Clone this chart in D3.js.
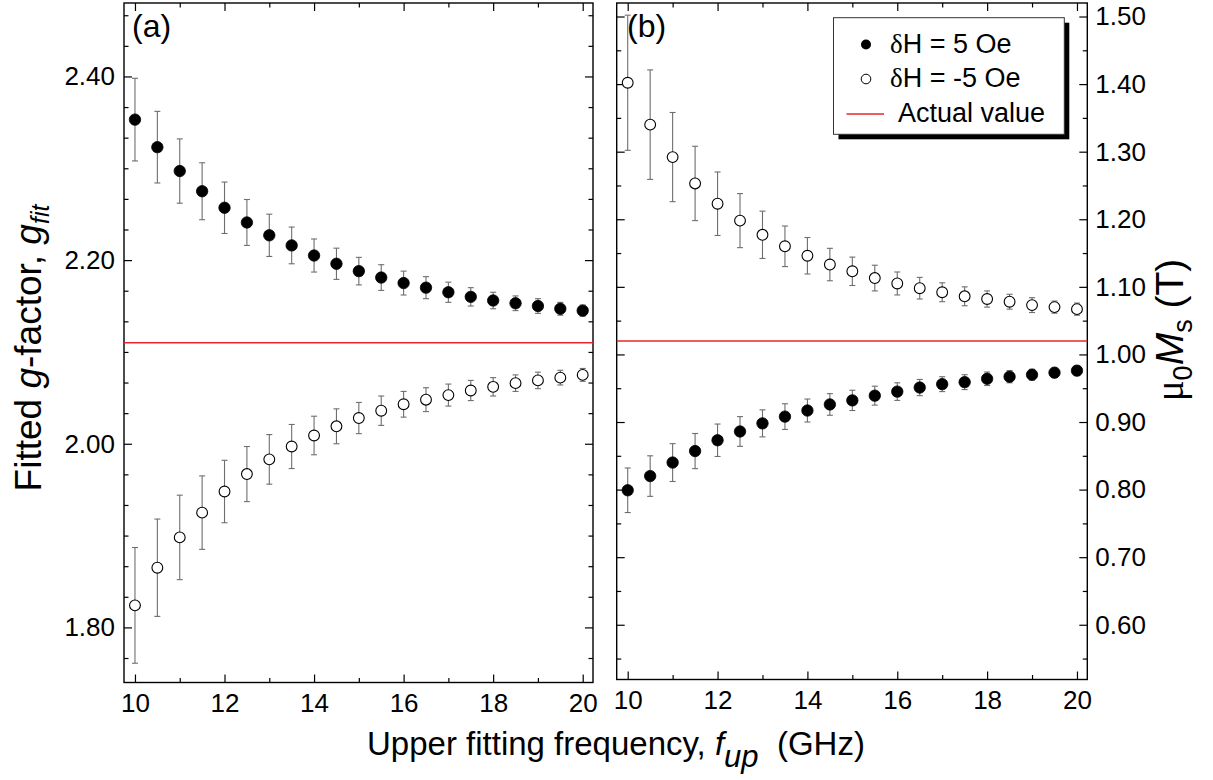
<!DOCTYPE html>
<html><head><meta charset="utf-8">
<script src="https://cdn.jsdelivr.net/npm/d3@7"></script>
<style>
html,body{margin:0;padding:0;background:#fff;}
svg{display:block;}
text{font-family:"Liberation Sans",Arial,sans-serif;fill:#000;}
</style></head>
<body>
<script>
// ---------- data ----------
const freq = [10, 10.5, 11, 11.5, 12, 12.5, 13, 13.5, 14, 14.5, 15, 15.5, 16, 16.5, 17, 17.5, 18, 18.5, 19, 19.5, 20];
// panel (a): fitted g-factor
const gPos    = [2.353, 2.323, 2.297, 2.275, 2.257, 2.241, 2.227, 2.216, 2.205, 2.196, 2.188, 2.181, 2.175, 2.170, 2.165, 2.160, 2.156, 2.153, 2.150, 2.147, 2.145];
const gPosErr = [0.045, 0.039, 0.035, 0.031, 0.028, 0.025, 0.023, 0.020, 0.018, 0.017, 0.015, 0.014, 0.013, 0.012, 0.011, 0.010, 0.009, 0.008, 0.008, 0.007, 0.006];
const gNeg    = [1.824, 1.865, 1.898, 1.925, 1.948, 1.967, 1.983, 1.997, 2.009, 2.019, 2.028, 2.036, 2.043, 2.048, 2.053, 2.058, 2.062, 2.066, 2.069, 2.072, 2.075];
const gNegErr = [0.063, 0.053, 0.046, 0.040, 0.034, 0.030, 0.027, 0.024, 0.021, 0.019, 0.017, 0.016, 0.014, 0.013, 0.012, 0.011, 0.010, 0.009, 0.009, 0.008, 0.007];
const gActual = 2.11;
// panel (b): mu0 Ms (T)
const msPos    = [0.799, 0.820, 0.840, 0.857, 0.873, 0.886, 0.898, 0.908, 0.917, 0.926, 0.932, 0.939, 0.945, 0.951, 0.956, 0.959, 0.964, 0.967, 0.970, 0.973, 0.976];
const msPosErr = [0.033, 0.030, 0.028, 0.026, 0.024, 0.022, 0.020, 0.019, 0.017, 0.016, 0.015, 0.014, 0.013, 0.012, 0.011, 0.011, 0.010, 0.009, 0.008, 0.007, 0.007];
const msNeg    = [1.402, 1.340, 1.292, 1.253, 1.223, 1.198, 1.177, 1.160, 1.146, 1.133, 1.123, 1.113, 1.105, 1.098, 1.092, 1.086, 1.082, 1.078, 1.073, 1.070, 1.067];
const msNegErr = [0.100, 0.081, 0.066, 0.055, 0.047, 0.040, 0.035, 0.030, 0.027, 0.024, 0.021, 0.019, 0.017, 0.016, 0.014, 0.014, 0.012, 0.011, 0.011, 0.009, 0.009];
const msActual = 1.02;
// ticks
const xMajor = [10, 12, 14, 16, 18, 20];
const xMinor = [11, 13, 15, 17, 19];
const gMajor = [1.80, 2.00, 2.20, 2.40];
const msMajor = [0.60, 0.70, 0.80, 0.90, 1.00, 1.10, 1.20, 1.30, 1.40, 1.50];
const legendLabels = ["δH = 5 Oe", "δH = -5 Oe", "Actual value"];

// ---------- layout ----------
const W = 1213, H = 780;
const svg = d3.select("body").append("svg").attr("width", W).attr("height", H);

const xA = d3.scaleLinear().domain([9.755, 20.23]).range([124, 593]);
const yA = d3.scaleLinear().domain([1.74, 2.48]).range([682.5, 3]);
const xB = d3.scaleLinear().domain([9.755, 20.23]).range([616.7, 1087.3]);
const yB = d3.scaleLinear().domain([0.519, 1.52]).range([679.5, 3]);

// minor ticks: 5 per 0.2 on (a), one per 0.1 on (b)
const gMinor = d3.range(-2, 22).map(i => 1.80 + i * 0.2 / 6)
  .filter(v => v > 1.741 && v < 2.479 && !gMajor.some(m => Math.abs(m - v) < 1e-3));
const msMinor = d3.range(0, 19).map(i => 0.55 + i * 0.1).filter(v => v > 0.52 && v < 1.52);

const MAJ = 8, MIN = 4.5;
const fontTick = 26;
const serif = '"Liberation Serif","Times New Roman",serif';

function styleAxis(g) {
  g.select(".domain").remove();
  g.selectAll(".tick line").attr("stroke", "#000").attr("stroke-width", 1.2);
  g.selectAll(".tick text").attr("font-size", fontTick).attr("font-family", '"Liberation Sans",Arial,sans-serif').attr("fill", "#000");
}

function drawPanel(x, y, yMaj, yMin, labelRight, fmt) {
  const [x0, x1] = x.range();
  const [yb, yt] = y.range();
  const g = svg.append("g");
  const none = () => "";
  // bottom
  g.append("g").attr("transform", `translate(0,${yb})`)
    .call(d3.axisBottom(x).tickValues(xMajor).tickSizeInner(-MAJ).tickSizeOuter(0).tickPadding(11).tickFormat(d3.format("d")))
    .call(styleAxis);
  g.append("g").attr("transform", `translate(0,${yb})`)
    .call(d3.axisBottom(x).tickValues(xMinor).tickSizeInner(-MIN).tickSizeOuter(0).tickFormat(none))
    .call(styleAxis);
  // top
  g.append("g").attr("transform", `translate(0,${yt})`)
    .call(d3.axisTop(x).tickValues(xMajor).tickSizeInner(-MAJ).tickSizeOuter(0).tickFormat(none))
    .call(styleAxis);
  g.append("g").attr("transform", `translate(0,${yt})`)
    .call(d3.axisTop(x).tickValues(xMinor).tickSizeInner(-MIN).tickSizeOuter(0).tickFormat(none))
    .call(styleAxis);
  // left
  g.append("g").attr("transform", `translate(${x0},0)`)
    .call(d3.axisLeft(y).tickValues(yMaj).tickSizeInner(-MAJ).tickSizeOuter(0).tickPadding(9).tickFormat(labelRight ? none : fmt))
    .call(styleAxis);
  g.append("g").attr("transform", `translate(${x0},0)`)
    .call(d3.axisLeft(y).tickValues(yMin).tickSizeInner(-MIN).tickSizeOuter(0).tickFormat(none))
    .call(styleAxis);
  // right
  g.append("g").attr("transform", `translate(${x1},0)`)
    .call(d3.axisRight(y).tickValues(yMaj).tickSizeInner(-MAJ).tickSizeOuter(0).tickPadding(8).tickFormat(labelRight ? fmt : none))
    .call(styleAxis);
  g.append("g").attr("transform", `translate(${x1},0)`)
    .call(d3.axisRight(y).tickValues(yMin).tickSizeInner(-MIN).tickSizeOuter(0).tickFormat(none))
    .call(styleAxis);
  // frame
  g.append("rect").attr("x", x0).attr("y", yt).attr("width", x1 - x0).attr("height", yb - yt)
    .attr("fill", "none").attr("stroke", "#000").attr("stroke-width", 1.4);
  return g;
}

function drawSeries(g, x, y, vals, errs, filled) {
  const data = freq.map((f, i) => ({ f, v: vals[i], e: errs[i] }));
  const eb = g.append("g").attr("stroke", "#6e6e6e").attr("stroke-width", 1.1).attr("fill", "none");
  data.forEach(d => {
    const cx = x(d.f), ylo = y(d.v - d.e), yhi = y(d.v + d.e);
    eb.append("line").attr("x1", cx).attr("x2", cx).attr("y1", ylo).attr("y2", yhi);
    eb.append("line").attr("x1", cx - 3).attr("x2", cx + 3).attr("y1", ylo).attr("y2", ylo);
    eb.append("line").attr("x1", cx - 3).attr("x2", cx + 3).attr("y1", yhi).attr("y2", yhi);
  });
  g.append("g").selectAll("circle").data(data).join("circle")
    .attr("cx", d => x(d.f)).attr("cy", d => y(d.v))
    .attr("r", filled ? 5.7 : 5.4)
    .attr("fill", filled ? "#000" : "#fff")
    .attr("stroke", "#000").attr("stroke-width", filled ? 0.8 : 1.1);
}

function actualLine(g, x, y, v) {
  g.append("line").attr("x1", x.range()[0]).attr("x2", x.range()[1])
    .attr("y1", y(v)).attr("y2", y(v)).attr("stroke", "#e8262b").attr("stroke-width", 1.5);
}

const fmt2 = d3.format(".2f");
const pA = drawPanel(xA, yA, gMajor, gMinor, false, fmt2);
actualLine(pA, xA, yA, gActual);
drawSeries(pA, xA, yA, gPos, gPosErr, true);
drawSeries(pA, xA, yA, gNeg, gNegErr, false);

const pB = drawPanel(xB, yB, msMajor, msMinor, true, fmt2);
actualLine(pB, xB, yB, msActual);
drawSeries(pB, xB, yB, msNeg, msNegErr, false);
drawSeries(pB, xB, yB, msPos, msPosErr, true);

// panel labels
svg.append("text").attr("x", 132).attr("y", 37).attr("font-size", 32).text("(a)");
svg.append("text").attr("x", 627).attr("y", 37).attr("font-size", 32).text("(b)");

// legend
const lg = svg.append("g");
lg.append("rect").attr("x", 838.5).attr("y", 22.7).attr("width", 230.8).attr("height", 116.6).attr("fill", "#000");
lg.append("rect").attr("x", 833.5).attr("y", 17.7).attr("width", 230.8).attr("height", 116.6).attr("fill", "#fff").attr("stroke", "#333").attr("stroke-width", 1);
const rowsY = [44.5, 79, 114];
lg.append("circle").attr("cx", 866).attr("cy", rowsY[0]).attr("r", 5).attr("fill", "#000");
lg.append("circle").attr("cx", 866).attr("cy", rowsY[1]).attr("r", 4.8).attr("fill", "#fff").attr("stroke", "#000").attr("stroke-width", 1);
lg.append("line").attr("x1", 846.5).attr("x2", 884).attr("y1", rowsY[2]).attr("y2", rowsY[2]).attr("stroke", "#e8262b").attr("stroke-width", 1.3);
[0, 1].forEach(i => {
  const t = lg.append("text").attr("x", 890).attr("y", rowsY[i] + 8).attr("font-size", 27);
  const lab = legendLabels[i];
  t.append("tspan").attr("font-family", serif).text(lab.slice(0, 1));
  t.append("tspan").text(lab.slice(1));
});
lg.append("text").attr("x", 898).attr("y", rowsY[2] + 8).attr("font-size", 27).text(legendLabels[2]);

// axis titles
const xt = svg.append("text").attr("x", 367).attr("y", 755).attr("font-size", 33).attr("xml:space", "preserve");
xt.append("tspan").text("Upper fitting frequency, ");
xt.append("tspan").attr("font-style", "italic").text("f");
xt.append("tspan").attr("font-style", "italic").attr("font-size", 31).attr("dy", 12).text("up");
xt.append("tspan").attr("dy", -12).text("  (GHz)");

const lt = svg.append("text").attr("transform", "translate(40.7,348) rotate(-90)").attr("text-anchor", "middle").attr("font-size", 37);
lt.append("tspan").text("Fitted ");
lt.append("tspan").attr("font-style", "italic").text("g");
lt.append("tspan").text("-factor, ");
lt.append("tspan").attr("font-style", "italic").text("g");
lt.append("tspan").attr("font-style", "italic").attr("font-size", 25).attr("dy", 8).text("fit");

const rt = svg.append("text").attr("transform", "translate(1183,330) rotate(-90)").attr("text-anchor", "middle").attr("font-size", 39);
rt.append("tspan").attr("font-family", serif).text("μ");
rt.append("tspan").attr("font-size", 27).attr("dy", 9).text("0");
rt.append("tspan").attr("font-style", "italic").attr("dy", -9).text("M");
rt.append("tspan").attr("font-size", 27).attr("dy", 9).text("s");
rt.append("tspan").attr("dy", -9).attr("xml:space", "preserve").text(" (T)");
</script>
</body></html>
